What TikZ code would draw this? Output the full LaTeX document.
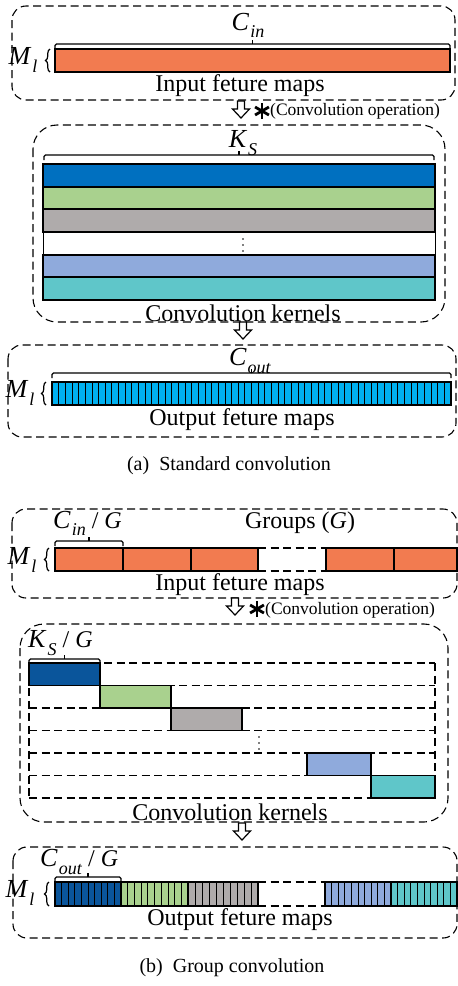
\documentclass[tikz,border=0pt]{standalone}
\usepackage{fontspec}
\setmainfont{Liberation Serif}
\usetikzlibrary{decorations.pathreplacing}

\definecolor{orng}{HTML}{F27B50}
\definecolor{kblue}{HTML}{0070C0}
\definecolor{kgreen}{HTML}{A9D18E}
\definecolor{kgray}{HTML}{AFABAB}
\definecolor{klblue}{HTML}{8FAADC}
\definecolor{kteal}{HTML}{5FC6C9}
\definecolor{ocyan}{HTML}{00B0F0}
\definecolor{gdblue}{HTML}{0A559B}

% italic symbol with italic subscript
\newcommand\mlab[2]{{\fontsize{26}{28}\selectfont\textit{#1}}\kern1pt\raisebox{-0.3em}{\fontsize{18}{18}\selectfont\textit{#2}}}
% square top bracket with a centre tick: x1, x2, y
\newcommand\topbrace[3]{%
  \draw[brc] (#1,#3+5) -- (#1,#3) -- (#2,#3) -- (#2,#3+5);
  \draw[brc] ({(#1+#2)/2},#3) -- ({(#1+#2)/2},#3-4);}
% hollow down arrow: centre x, top y
\newcommand\hollowarrow[2]{%
  \draw[line width=1.2pt, fill=white, line join=miter]
    (#1-3.5,#2) -- (#1+3.5,#2) -- (#1+3.5,#2+8) -- (#1+8.5,#2+8) -- (#1,#2+17)
    -- (#1-8.5,#2+8) -- (#1-3.5,#2+8) -- cycle;}
% bold six-armed asterisk: centre
\newcommand\convstar[2]{%
  \foreach \a in {90,30,-30}
    \draw[line width=2.8pt] (#1,#2) ++(\a:8) -- ++(\a+180:16);}
% filled bar split into n cells: x1, x2, y1, y2, colour, n
\newcommand\stripecells[6]{%
  \draw[bar, fill=#5] (#1,#3) rectangle (#2,#4);
  \pgfmathsetmacro\cellw{(#2-#1)/#6}
  \foreach \k in {1,...,#6}
    \draw[line width=0.8pt] ({#1+\cellw*\k},#3) -- ({#1+\cellw*\k},#4);}

\begin{document}
\begin{tikzpicture}[x=1pt, y=-1pt,
  dbox/.style={draw, line width=1.1pt, dash pattern=on 8pt off 4.5pt, rounded corners=14pt},
  bar/.style={draw, line width=1.2pt},
  brc/.style={line width=1.1pt, rounded corners=1.5pt},
  lbr/.style={line width=1.2pt, decorate, decoration={brace, amplitude=4.5pt}},
  lbl/.style={font=\fontsize{24}{26}\selectfont, inner sep=0pt},
  opl/.style={font=\fontsize{17.5}{19}\selectfont, inner sep=0pt},
  captxt/.style={font=\fontsize{20}{22}\selectfont, inner sep=0pt},
  dgrid/.style={line width=1.1pt, dash pattern=on 8pt off 4.5pt}]
\useasboundingbox (0,0) rectangle (458,986);
\fill[white] (0,0) rectangle (458,986);

% ---------------- (a) standard convolution ----------------
\draw[dbox] (12,6) rectangle (455,100);
\node[lbl] (cin) at (248,25) {\mlab{C}{in}};
\topbrace{55}{450}{44}
\draw[bar, fill=orng] (55,49) rectangle (450,72);
\node[lbl] (mla) at (23,60) {\mlab{M}{l}};
\draw[lbr] (50,72) -- (50,49);
\node[lbl] (inputa) at (240,86) {Input feture maps};

\hollowarrow{241}{101}
\convstar{262}{111}
\node[opl, anchor=west] (opa) at (270,111) {(Convolution operation)};

\draw[dbox, rounded corners=24pt] (33,125) rectangle (445,322);
\node[lbl] (ks) at (243,143) {\mlab{K}{S}};
\topbrace{44}{434}{155}
\draw[bar, fill=kblue]  (43,164) rectangle (435,187);
\draw[bar, fill=kgreen] (43,187) rectangle (435,209);
\draw[bar, fill=kgray]  (43,209) rectangle (435,232);
\draw[line width=0.6pt] (43,232) -- (43,255) (435,232) -- (435,255);
\foreach \yy in {239,245,251} \fill (243,\yy) circle (0.9);
\draw[bar, fill=klblue] (43,255) rectangle (435,277);
\draw[bar, fill=kteal]  (43,277) rectangle (435,300);
\node[lbl] (kernelsa) at (243,313) {Convolution kernels};

\hollowarrow{243}{322}

\draw[dbox] (8,345) rectangle (456,437);
\node[lbl] (cout) at (250,361) {\mlab{C}{out}};
\topbrace{52}{451}{373}
\stripecells{52}{451}{382}{405}{ocyan}{60}
\node[lbl] (mlb) at (20,393) {\mlab{M}{l}};
\draw[lbr] (46,405) -- (46,382);
\node[lbl] (outputa) at (242,420) {Output feture maps};

\node[captxt] (capa) at (229,466) {(a)\enspace Standard convolution};

% ---------------- (b) group convolution ----------------
\draw[dbox] (12,509) rectangle (457,598);
\node[lbl, anchor=west] (cing) at (53,523) {\mlab{C}{in} / \textit{G}};
\node[lbl] (groups) at (300,523) {Groups (\textit{G})};
\topbrace{55}{123}{541}
\foreach \xa/\xb in {55/123, 123/191, 191/258, 326/394, 394/457}
  \draw[bar, fill=orng] (\xa,548) rectangle (\xb,571);
\draw[dgrid] (258,548) -- (326,548) (258,571) -- (326,571);
\node[lbl] (mlc) at (22,560) {\mlab{M}{l}};
\draw[lbr] (49,571) -- (49,548);
\node[lbl] (inputb) at (240,585) {Input feture maps};

\hollowarrow{235}{598}
\convstar{257}{609}
\node[opl, anchor=west] (opb) at (265,610) {(Convolution operation)};

\draw[dbox, rounded corners=24pt] (20,624) rectangle (448,822);
\node[lbl, anchor=west] (ksg) at (28,643) {\mlab{K}{S} / \textit{G}};
\topbrace{29}{100}{659}
% group kernel grid
\foreach \yy in {663,685.5,708,730.5,753,775.5,798}
  \draw[dgrid] (29,\yy) -- (435,\yy);
\draw[dgrid] (29,663) -- (29,798) (435,663) -- (435,798);
\draw[bar, fill=gdblue] (29,663) rectangle (100,685.5);
\draw[bar, fill=kgreen] (100,685.5) rectangle (171,708);
\draw[bar, fill=kgray]  (171,708) rectangle (242,730.5);
\foreach \yy in {737,743,749} \fill (259,\yy) circle (0.9);
\draw[bar, fill=klblue] (307,753) rectangle (371,775.5);
\draw[bar, fill=kteal]  (371,775.5) rectangle (435,798);
\node[lbl] (kernelsb) at (230,812) {Convolution kernels};

\hollowarrow{242}{823}

\draw[dbox] (13,847) rectangle (457,938);
\node[lbl, anchor=west] (coutg) at (40,862) {\mlab{C}{out} / \textit{G}};
\topbrace{55}{121}{877}
\stripecells{55}{121}{882}{906}{gdblue}{10}
\stripecells{121}{188}{882}{906}{kgreen}{10}
\stripecells{188}{258}{882}{906}{kgray}{10}
\draw[dgrid] (258,882) -- (325,882) (258,906) -- (325,906);
\stripecells{325}{391}{882}{906}{klblue}{10}
\stripecells{391}{457}{882}{906}{kteal}{10}
\node[lbl] (mld) at (20,893) {\mlab{M}{l}};
\draw[lbr] (49,906) -- (49,882);
\node[lbl] (outputb) at (240,920) {Output feture maps};

\node[captxt] (capb) at (232,968) {(b)\enspace Group convolution};
\end{tikzpicture}
\end{document}
